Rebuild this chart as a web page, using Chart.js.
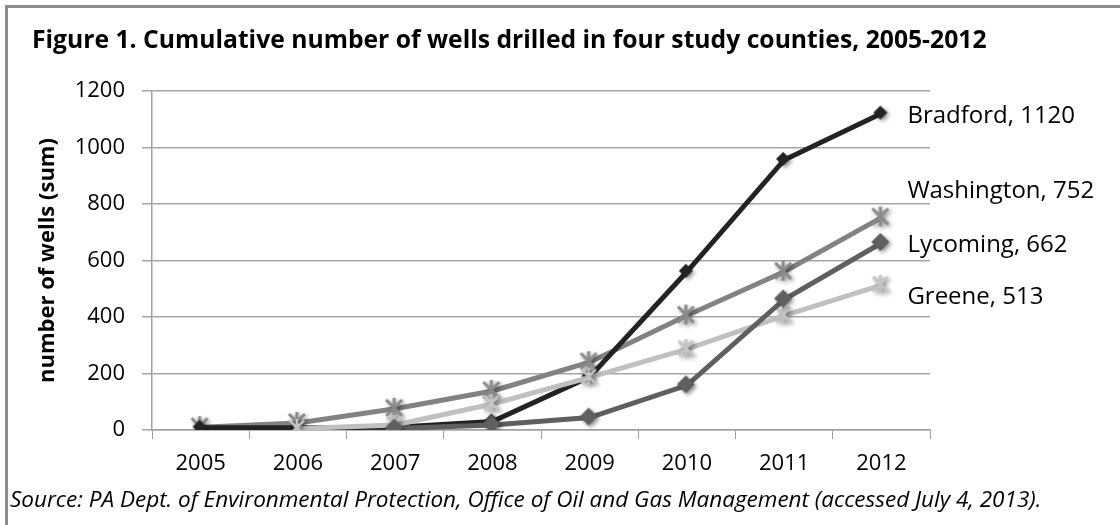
<!DOCTYPE html>
<html>
<head>
<meta charset="utf-8">
<script src="https://cdn.jsdelivr.net/npm/chart.js@4"></script>
<style>
body{margin:0;background:#fff}
#caja{width:1120px;height:525px;position:relative}
</style>
</head>
<body>
<div id="caja"><canvas id="grafico"></canvas></div>
<script>

/* datos */
const anios = ["2005","2006","2007","2008","2009","2010","2011","2012"]
const condados = ["Lycoming","Greene","Bradford","Washington"]

const bradford = [8, 8, 10, 30, 188, 560, 956, 1120]
const washington = [10, 25, 75, 138, 240, 405, 560, 752]
const lycoming = [null, null, 5, 18, 44, 158, 462, 662]
const greene = [null, 5, 18, 92, 186, 286, 405, 513]

const ejeY = [0, 200, 400, 600, 800, 1000, 1200]

const titulo = "Figure 1. Cumulative number of wells drilled in four study counties, 2005-2012"
const fuente = "Source: PA Dept. of Environmental Protection, Office of Oil and Gas Management (accessed July 4, 2013)."

const letra = "'Open Sans', 'Liberation Sans', sans-serif"


/* =========================
MARCADORES (con sombra)
========================= */

function marcador(tipo, color, r){

let c = document.createElement("canvas")
c.width = 2*r + 10
c.height = 2*r + 10
let ctx = c.getContext("2d")
let m = r + 4

ctx.shadowColor = "rgba(0,0,0,0.45)"
ctx.shadowBlur = 4
ctx.shadowOffsetX = 2
ctx.shadowOffsetY = 2

if(tipo == "diamante"){
ctx.fillStyle = color
ctx.beginPath()
ctx.moveTo(m, m-r)
ctx.lineTo(m+r, m)
ctx.lineTo(m, m+r)
ctx.lineTo(m-r, m)
ctx.closePath()
ctx.fill()
}else{
ctx.strokeStyle = color
ctx.lineWidth = 3
ctx.beginPath()
ctx.moveTo(m-r*0.8, m-r*0.8); ctx.lineTo(m+r*0.8, m+r*0.8)
ctx.moveTo(m+r*0.8, m-r*0.8); ctx.lineTo(m-r*0.8, m+r*0.8)
ctx.moveTo(m, m-r); ctx.lineTo(m, m+r)
ctx.stroke()
}

return c
}


/* =========================
TEXTOS Y MARCO
========================= */

const textosFigura = {
id:"textosFigura",
beforeDraw(chart){
let ctx = chart.ctx
ctx.save()
ctx.fillStyle = "#fff"
ctx.fillRect(0,0,chart.width,chart.height)
ctx.strokeStyle = "#8c8c8c"
ctx.lineWidth = 3
ctx.beginPath()
ctx.moveTo(6.5, chart.height+5)
ctx.lineTo(6.5, 6.5)
ctx.lineTo(chart.width+5, 6.5)
ctx.stroke()

ctx.fillStyle = "#000"
ctx.textBaseline = "alphabetic"
ctx.font = "bold 24.7px " + letra
ctx.fillText(titulo, 32, 48)

ctx.font = "italic 22.5px " + letra
ctx.fillText(fuente, 10, 507)
ctx.restore()
}
}

const etiquetasFinal = {
id:"etiquetasFinal",
afterDatasetsDraw(chart, args, opts){
let ctx = chart.ctx
ctx.save()
ctx.font = "24px " + letra
ctx.fillStyle = "#000"
ctx.textBaseline = "middle"
chart.data.datasets.forEach(function(ds, i){
let meta = chart.getDatasetMeta(i)
let ultimo = meta.data[meta.data.length-1]
let valor = ds.data[ds.data.length-1]
ctx.fillText(ds.label + ", " + valor, ultimo.x + 26, ultimo.y + opts.desplazar[i])
})
ctx.restore()
}
}


/* =========================
GRAFICO
========================= */

let chartPozos = new Chart(document.getElementById("grafico"), {

type:"line",

data:{
labels:anios,
datasets:[
{
label:condados[0],
data:lycoming,
borderColor:"#5f5f5f",
borderWidth:5,
pointStyle:marcador("diamante","#5f5f5f",9)
},
{
label:condados[1],
data:greene,
borderColor:"#c0c0c0",
borderWidth:5,
pointStyle:marcador("estrella","#c4c4c4",9)
},
{
label:condados[2],
data:bradford,
borderColor:"#232323",
borderWidth:5,
pointStyle:marcador("diamante","#232323",7)
},
{
label:condados[3],
data:washington,
borderColor:"#828282",
borderWidth:5,
pointStyle:marcador("estrella","#8a8a8a",10)
}
]
},

options:{
responsive:true,
maintainAspectRatio:false,
animation:false,
layout:{padding:{top:91, right:190, left:0, bottom:0}},
elements:{line:{tension:0}},
plugins:{
legend:{display:false},
tooltip:{enabled:false},
etiquetasFinal:{desplazar:[2, 12, 3, -26]}
},
scales:{
x:{
offset:true,
grid:{offset:true, drawOnChartArea:false, drawTicks:true, tickLength:9, color:"#a0a0a0"},
border:{color:"#a0a0a0", width:1.5},
ticks:{color:"#000", font:{family:letra, size:22}, padding:12},
afterFit(scale){ scale.height = 95 }
},
y:{
min:0,
max:1200,
afterBuildTicks(scale){ scale.ticks = ejeY.map(v => ({value:v})) },
grid:{color:"#a6a6a6", lineWidth:1.5, tickLength:10},
border:{color:"#a0a0a0", width:1.5},
ticks:{color:"#000", font:{family:letra, size:22}, padding:17, callback:(v) => String(v)},
title:{display:true, text:"number of wells (sum)", color:"#000", font:{family:letra, size:22, weight:"bold"}, padding:{top:35}},
afterFit(scale){ scale.width = 152 }
}
}
},

plugins:[textosFigura, etiquetasFinal]

})

</script>
</body>
</html>
